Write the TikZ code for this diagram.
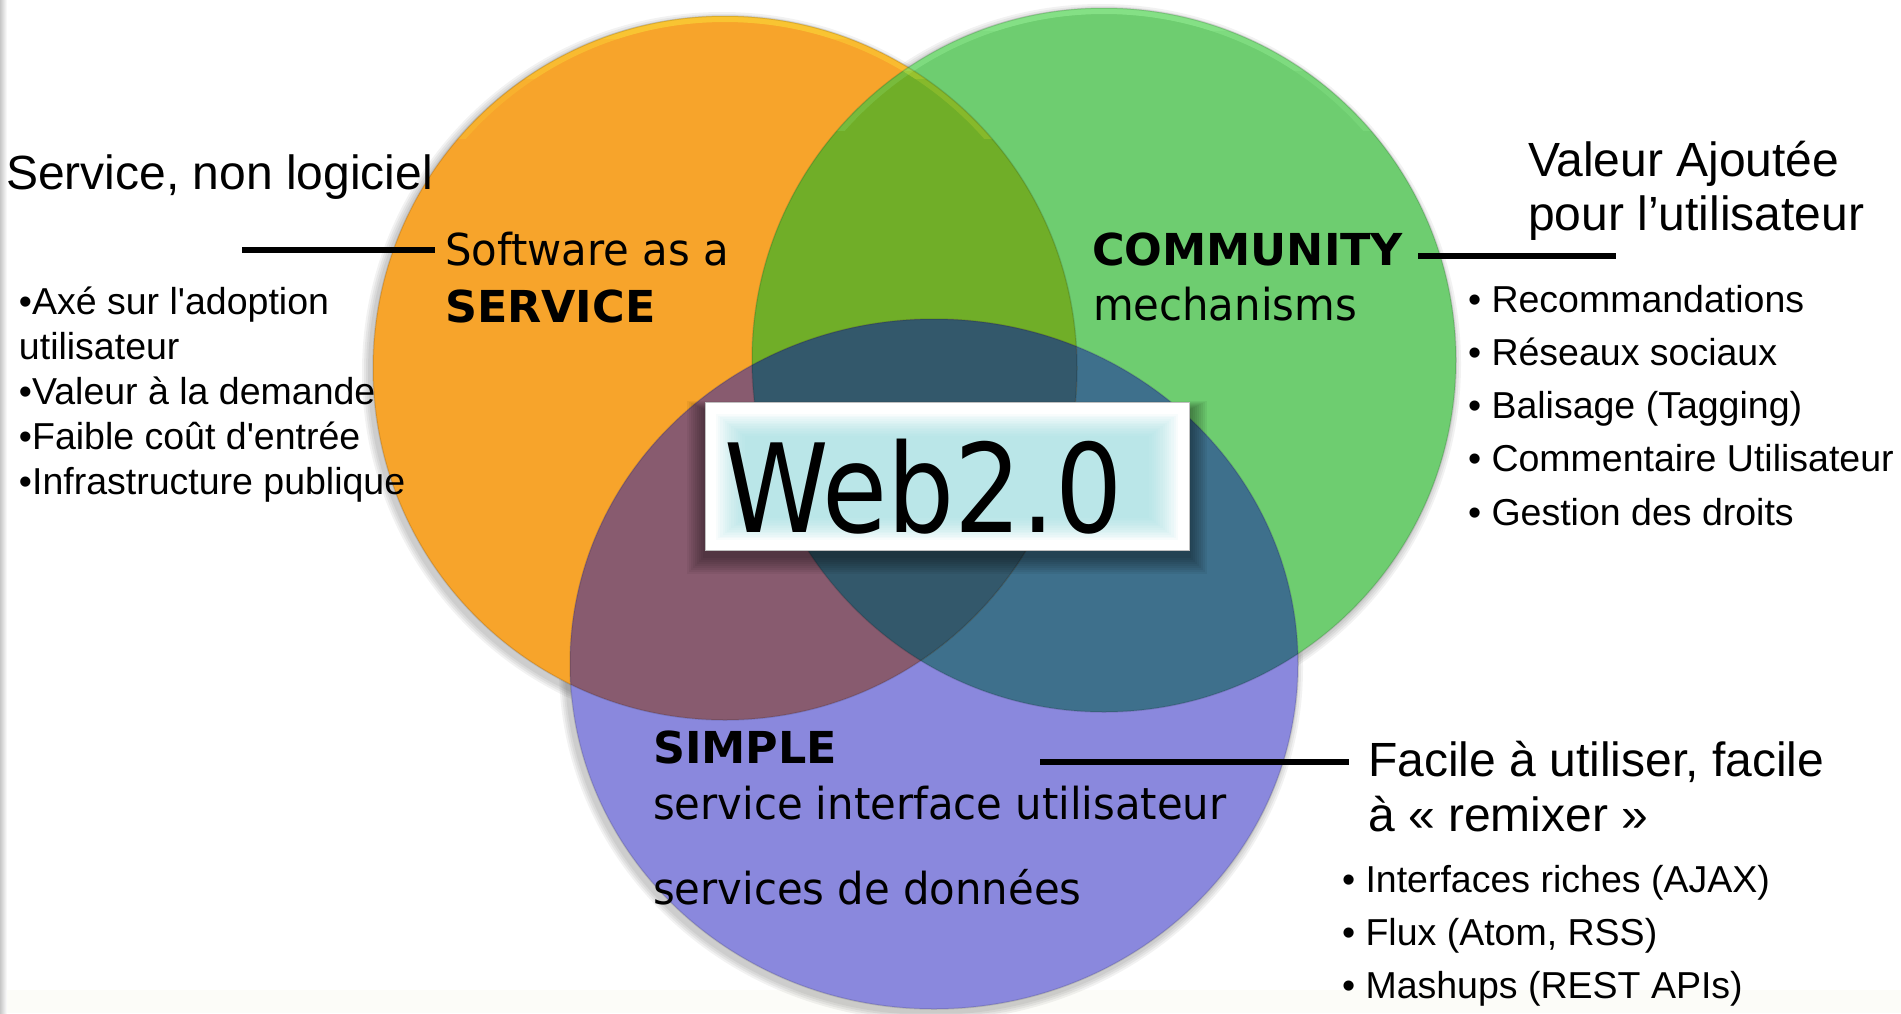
\documentclass[tikz,border=0pt]{standalone}
\usepackage{fontspec}
\setmainfont{Liberation Sans}[Ligatures=TeXOff]
\newfontfamily\tah{DejaVu Sans}[FakeStretch=0.95,Ligatures=TeXOff]
\newfontfamily\tahbold{DejaVu Sans}[FakeStretch=1.01,Ligatures=TeXOff]
\newfontfamily\webfont{DejaVu Sans}[FakeStretch=0.86]
\definecolor{cO}{HTML}{F7A42B}
\definecolor{cG}{HTML}{6ECD70}
\definecolor{cB}{HTML}{8A88DD}
\definecolor{cOG}{HTML}{70AE28}
\definecolor{cOB}{HTML}{885B6F}
\definecolor{cGB}{HTML}{3E708C}
\definecolor{cOGB}{HTML}{33586B}
\definecolor{glow}{HTML}{96DCE0}
\definecolor{band}{HTML}{FCFCF8}
\tikzset{
  lbl/.style={anchor=base west, inner sep=0pt, outer sep=0pt},
  big/.style={lbl, font=\fontsize{48}{56}\selectfont},
  item/.style={lbl, font=\fontsize{37.5}{44}\selectfont},
  tahn/.style={lbl, font=\tah\fontsize{44}{52}\selectfont},
  tahb/.style={lbl, font=\tahbold\bfseries\fontsize{44}{52}\selectfont},
  conn/.style={line width=6pt, black},
  rim/.style={draw=black, draw opacity=0.12, line width=1.5pt}
}
\begin{document}
\begin{tikzpicture}[x=1pt,y=-1pt]
\useasboundingbox (0,0) rectangle (1901,1013);
\fill[white] (0,0) rectangle (1901,1013);
\fill[band] (0,990) rectangle (1901,1013);
\shade[left color=black!22, right color=white] (0,0) rectangle (7,1013);

% soft shadows
\foreach \k in {2,4,6,8} {
  \fill[black, opacity=0.05] (722,372) circle[radius={352+\k}];
  \fill[black, opacity=0.05] (1101,364) circle[radius={352+\k}];
  \fill[black, opacity=0.05] (931,668) ellipse[x radius={364+\k}, y radius={345+\k}];
}

% circles
\fill[cO] (725,368) circle[radius=352pt];
\fill[cG] (1104,360) circle[radius=352pt];
\fill[cB] (934,664) ellipse[x radius=364pt, y radius=345pt];
\begin{scope}
  \clip (1104,360) circle[radius=352pt];
  \fill[cGB] (934,664) ellipse[x radius=364pt, y radius=345pt];
\end{scope}
\begin{scope}
  \clip (725,368) circle[radius=352pt];
  \fill[cOG] (1104,360) circle[radius=352pt];
  \fill[cOB] (934,664) ellipse[x radius=364pt, y radius=345pt];
  \clip (1104,360) circle[radius=352pt];
  \fill[cOGB] (934,664) ellipse[x radius=364pt, y radius=345pt];
\end{scope}
% top highlights (faded rim)
\foreach \h in {230,290,330} {
  \begin{scope}
    \clip (725,368) circle[radius=352pt];
    \clip (0,0) rectangle (1901,{368-\h});
    \draw[line width=12pt, color=yellow!75!white, opacity=0.16] (725,368) circle[radius=352pt];
  \end{scope}
  \begin{scope}
    \clip (1104,360) circle[radius=352pt];
    \clip (0,0) rectangle (1901,{360-\h});
    \draw[line width=12pt, color=green!35!white, opacity=0.16] (1104,360) circle[radius=352pt];
  \end{scope}
}
\path[rim] (725,368) circle[radius=352pt];
\path[rim] (1104,360) circle[radius=352pt];
\path[rim] (934,664) ellipse[x radius=364pt, y radius=345pt];

% Web2.0 box with shadow and glow
\foreach \k in {1,...,9} {
  \fill[black, opacity=0.05] ({705-2*\k},{410-\k}) rectangle ({1189+2*\k},{556+2*\k});
}
\node[draw=black!25, fill=white, line width=1pt, minimum width=484pt, minimum height=148pt, inner sep=0pt] (web) at (947,476) {};
\foreach \k in {0,...,13} {
  \fill[glow, opacity=0.065] ({716+2.2*\k},{414+1.7*\k}) rectangle ({1178-2.2*\k},{540-1.7*\k});
}
\node[lbl, font=\webfont\fontsize{123}{130}\selectfont] (webtxt) at (724,532) {Web2.0};

% left texts
\node[big] (svc) at (6,189) {Service, non logiciel};
\node[item] (l1) at (19,314) {•Axé sur l'adoption};
\node[item] (l2) at (19,359) {utilisateur};
\node[item] (l3) at (19,404) {•Valeur à la demande};
\node[item] (l4) at (19,449) {•Faible coût d'entrée};
\node[item] (l5) at (19,494) {•Infrastructure publique};
\node[tahn] (saas1) at (445,265) {Software as a};
\node[tahb] (saas2) at (445,322) {SERVICE};
\coordinate (a1) at (242,250);
\coordinate (a2) at (435,250);
\draw[conn] (a1) -- (a2);

% right texts
\node[tahb] (comm) at (1092,265) {COMMUNITY};
\node[tahn] (mech) at (1093,320) {mechanisms};
\node[big] (va1) at (1528,176) {Valeur Ajoutée};
\node[big] (va2) at (1528,230) {pour l’utilisateur};
\coordinate (b1) at (1418,256);
\coordinate (b2) at (1616,256);
\draw[conn] (b1) -- (b2);
\node[item] (r1) at (1468,312) {• Recommandations};
\node[item] (r2) at (1468,365) {• Réseaux sociaux};
\node[item] (r3) at (1468,418) {• Balisage (Tagging)};
\node[item] (r4) at (1468,471) {• Commentaire Utilisateur};
\node[item] (r5) at (1468,525) {• Gestion des droits};

% bottom texts
\node[tahb] (simple) at (653,763) {SIMPLE};
\node[tahn] (sint) at (653,819) {service interface utilisateur};
\node[tahn] (sdon) at (653,904) {services de données};
\coordinate (c1) at (1040,762);
\coordinate (c2) at (1349,762);
\draw[conn] (c1) -- (c2);
\node[big] (f1) at (1368,776) {Facile à utiliser, facile};
\node[big] (f2) at (1368,831) {à « remixer »};
\node[item] (m1) at (1342,892) {• Interfaces riches (AJAX)};
\node[item] (m2) at (1342,945) {• Flux (Atom, RSS)};
\node[item] (m3) at (1342,998) {• Mashups (REST APIs)};
\end{tikzpicture}
\end{document}
